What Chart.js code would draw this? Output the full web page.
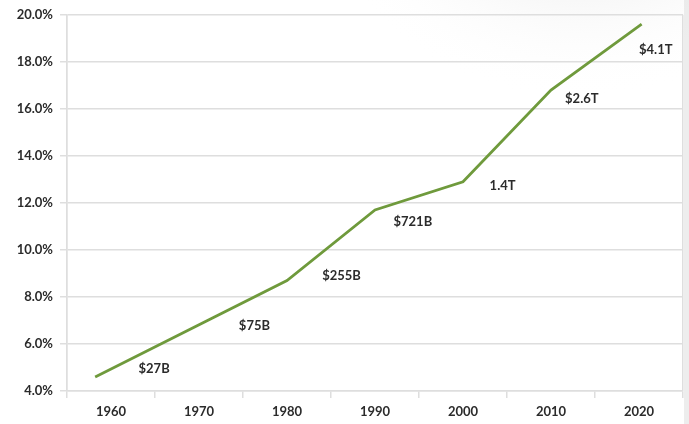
<!DOCTYPE html>
<html>
<head>
<meta charset="utf-8">
<script src="https://cdn.jsdelivr.net/npm/chart.js@4/dist/chart.umd.min.js"></script>
<style>
  html, body { margin: 0; padding: 0; background: #fff; }
  #wrap { width: 689px; height: 424px; position: relative; }
</style>
</head>
<body>
<div id="wrap"><canvas id="chart"></canvas></div>
<script>
// decades shown on the x axis
const decades = ['1960', '1970', '1980', '1990', '2000', '2010', '2020'];
// line points (year, share in %)
const lineYears = [1958.2, 1980, 1990, 2000, 2010, 2020.3];
const lineValues = [4.6, 8.7, 11.7, 12.9, 16.8, 19.6];
// callout labels and where they sit (year, %)
const calloutTexts = ['$27B', '$75B', '$255B', '$721B', '1.4T', '$2.6T', '$4.1T'];
const calloutYears = [1964.9, 1976.3, 1986.2, 1994.3, 2004.5, 2013.5, 2021.9];
const calloutValues = [4.93, 6.76, 8.89, 11.19, 12.74, 16.42, 18.52];
// y axis
const yMin = 4, yMax = 20, yStep = 2;

const gridColor = '#dedede';
const textColor = '#2b2b2b';
const font = { family: 'Lato', size: 13, weight: 'bold' };

// soft grey wash along the top right
const backdrop = {
  id: 'backdrop',
  beforeDraw(chart) {
    const { ctx, width, height } = chart;
    ctx.save();
    ctx.fillStyle = '#fff';
    ctx.fillRect(0, 0, width, height);
    const g = ctx.createRadialGradient(580, -200, 60, 580, -200, 300);
    g.addColorStop(0, '#d6d6d6');
    g.addColorStop(1, 'rgba(255,255,255,0)');
    ctx.fillStyle = g;
    ctx.fillRect(0, 0, width, height);
    ctx.fillStyle = 'rgba(225,225,225,0.6)';
    ctx.fillRect(684, 0, 5, height);
    ctx.restore();
  }
};

const callouts = {
  id: 'callouts',
  afterDatasetsDraw(chart) {
    const { ctx, scales } = chart;
    ctx.save();
    ctx.font = `${font.weight} ${font.size}px ${font.family}`;
    ctx.fillStyle = textColor;
    ctx.textAlign = 'center';
    ctx.textBaseline = 'middle';
    calloutTexts.forEach((t, i) => {
      ctx.fillText(t, scales.xl.getPixelForValue(calloutYears[i]), scales.y.getPixelForValue(calloutValues[i]));
    });
    ctx.restore();
  }
};

new Chart(document.getElementById('chart'), {
  type: 'line',
  data: {
    labels: decades,
    datasets: [{
      data: lineYears.map((x, i) => ({ x: x, y: lineValues[i] })),
      xAxisID: 'xl',
      borderColor: '#6f9a3c',
      borderWidth: 2.8,
      pointRadius: 0,
      tension: 0,
      fill: false
    }]
  },
  options: {
    responsive: true,
    maintainAspectRatio: false,
    animation: false,
    layout: { padding: { top: 7, right: 6, left: 0, bottom: 0 } },
    plugins: { legend: { display: false }, tooltip: { enabled: false } },
    scales: {
      x: {
        type: 'category',
        offset: true,
        grid: {
          offset: true,
          drawOnChartArea: true,
          tickLength: 7,
          lineWidth: 1.5,
          color: c => (c.index === 0 || c.type === 'scale') ? gridColor : 'rgba(0,0,0,0)',
          tickColor: gridColor
        },
        border: { display: true, color: gridColor, width: 1.5 },
        ticks: { color: textColor, font: font, padding: 6, maxRotation: 0 },
        afterFit: s => { s.height = 33; }
      },
      xl: {
        type: 'linear',
        display: false,
        min: 1955,
        max: 2025
      },
      y: {
        min: yMin,
        max: yMax,
        ticks: {
          stepSize: yStep,
          color: textColor,
          font: font,
          padding: 7,
          callback: v => v.toFixed(1) + '%'
        },
        grid: { color: gridColor, lineWidth: 1.5, tickLength: 7 },
        border: { display: true, color: gridColor, width: 1.5 },
        afterFit: s => { s.width = 67; }
      }
    }
  },
  plugins: [backdrop, callouts]
});
</script>
</body>
</html>
